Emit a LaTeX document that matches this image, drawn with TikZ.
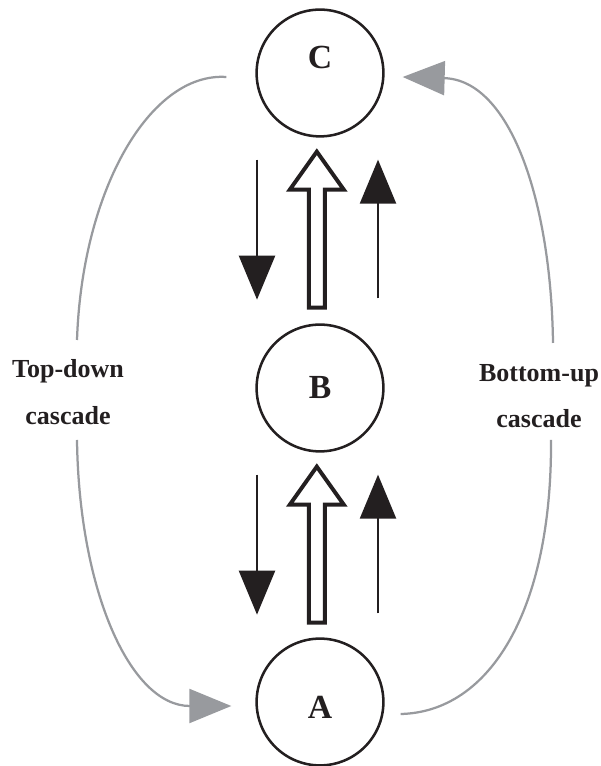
\documentclass[tikz,border=0pt]{standalone}
\usepackage{fontspec}
\setmainfont{Liberation Serif}
\usepackage{xcolor}
\usetikzlibrary{arrows.meta, calc, positioning}
\definecolor{cascgray}{RGB}{152,154,158}
\definecolor{inkblack}{RGB}{35,31,32}

\tikzset{
  level/.style={circle, draw=inkblack, line width=1.8pt, minimum size=3.17cm, inner sep=0pt},
  lett/.style={text=inkblack, font=\fontsize{24}{28}\selectfont\bfseries},
  casclabel/.style={align=center, text=inkblack, font=\fontsize{18.5}{33}\selectfont\bfseries},
  thinarrow/.style={draw=inkblack, line width=1.7pt, -{Triangle[length=1.1cm, width=0.9cm]}},
  hollowarrow/.style={draw=inkblack, line width=2.8pt, fill=white},
  cascade/.style={draw=cascgray, line width=1.6pt},
  cascarrow/.style={cascade, -{Triangle[length=1.05cm, width=0.85cm]}}
}

\begin{document}
\begin{tikzpicture}
                \useasboundingbox (0,0) rectangle (15,19.15);

                % Levels
                \node[level, label={[lett, yshift=0.375cm]center:C}] (C) at (8,17.325) {};
                \node[level, label={[lett]center:B}] (B) at (8,9.45) {};
                \node[level, label={[lett, yshift=-0.125cm]center:A}] (A) at (8,1.6) {};

                % Arrows between levels
                \foreach \up in {C,B} {
                    \begin{scope}[shift={(\up.south)}]
                        \draw[thinarrow] (-1.575,-0.55) -- (-1.575,-4.05);
                        \draw[hollowarrow] (-0.08,-0.35) -- (0.595,-1.3) -- (0.12,-1.3) -- (0.12,-4.25)
                            -- (-0.28,-4.25) -- (-0.28,-1.3) -- (-0.755,-1.3) -- cycle;
                        \draw[thinarrow] (1.45,-4.02) -- (1.45,-0.55);
                    \end{scope}
                }

                % Cascade labels
                \node[casclabel] (topdown) at (1.7,9.35) {Top-down\\cascade};
                \node[casclabel] (bottomup) at (13.475,9.25) {Bottom-up\\cascade};

                % Ends of the cascade curves
                \coordinate (tdstart) at ($(C.west)+(-0.725,-0.1)$);
                \coordinate (tdin) at (1.925,10.65);
                \coordinate (tdout) at (1.925,8.15);
                \coordinate (tdend) at ($(A.west)+(-0.6,-0.1)$);
                \coordinate (bustart) at ($(A.east)+(0.4,-0.3)$);
                \coordinate (buin) at (13.775,8.15);
                \coordinate (buout) at (13.825,10.575);
                \coordinate (buend) at ($(C.east)+(0.45,-0.1)$);

                % Top-down cascade
                \draw[cascade] (tdstart) .. controls (3.75,17.35) and (2.05,14.4) .. (tdin);
                \draw[cascarrow] (tdout) .. controls (1.975,4.4) and (3.25,1.5) .. (tdend);

                % Bottom-up cascade
                \draw[cascade] (bustart) .. controls (12.25,1.35) and (13.8,3.9) .. (buin);
                \draw[cascarrow] (buout) .. controls (13.775,14.15) and (12.75,17.15) .. (buend);
            \end{tikzpicture}
\end{document}
